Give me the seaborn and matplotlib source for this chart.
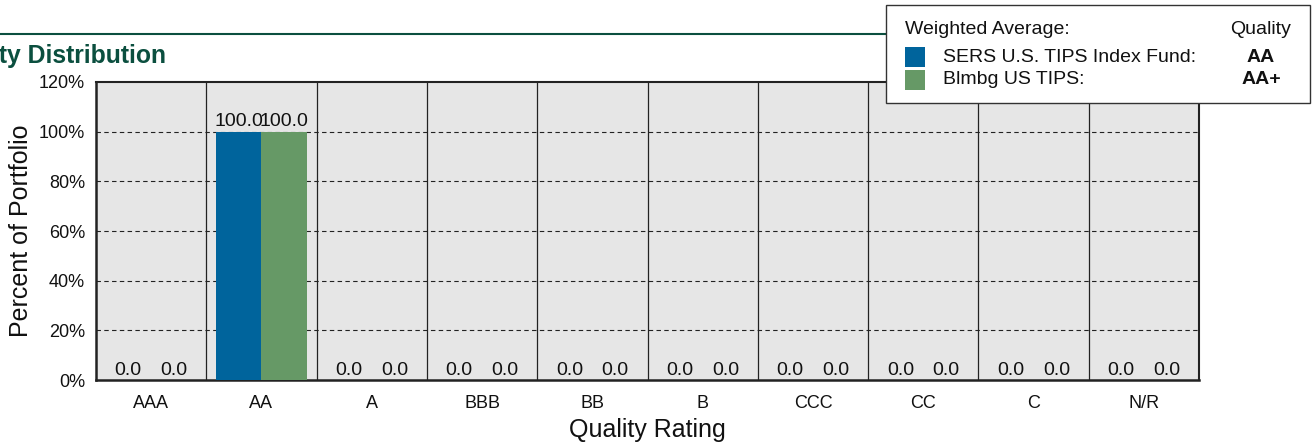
import matplotlib
matplotlib.use("Agg")
import matplotlib.pyplot as plt
import seaborn as sns
import pandas as pd
from matplotlib.patches import Rectangle
from matplotlib.lines import Line2D

categories = ["AAA", "AA", "A", "BBB", "BB", "B", "CCC", "CC", "C", "N/R"]
fund_values = [0.0, 100.0, 0.0, 0.0, 0.0, 0.0, 0.0, 0.0, 0.0, 0.0]
bench_values = [0.0, 100.0, 0.0, 0.0, 0.0, 0.0, 0.0, 0.0, 0.0, 0.0]
series_names = ["SERS U.S. TIPS Index Fund:", "Blmbg US TIPS:"]
series_quality = ["AA", "AA+"]
colors = ["#00649c", "#669966"]

df = pd.DataFrame({
    "Rating": categories * 2,
    "Value": fund_values + bench_values,
    "Series": [series_names[0]] * len(categories) + [series_names[1]] * len(categories),
})

sns.set_theme(style="white")
plt.rcParams["font.family"] = ["Liberation Sans", "DejaVu Sans"]
plt.rcParams["text.color"] = "#111111"
plt.rcParams["axes.labelcolor"] = "#111111"
plt.rcParams["xtick.color"] = "#111111"
plt.rcParams["ytick.color"] = "#111111"

W, H = 1313, 448
fig = plt.figure(figsize=(W / 100, H / 100), dpi=100)
ax = fig.add_axes([96 / W, 1 - 380 / H, (1199 - 96) / W, (380 - 82) / H])
ax.set_facecolor("#e6e6e6")

sns.barplot(data=df, x="Rating", y="Value", hue="Series", order=categories,
            hue_order=series_names, palette=colors, width=0.83, gap=0,
            ax=ax, legend=False, saturation=1, zorder=3, linewidth=0)

ax.set_ylim(0, 120)
ax.set_xlim(-0.5, len(categories) - 0.5)
ax.set_yticks(range(0, 121, 20))
ax.set_yticklabels([f"{v}%" for v in range(0, 121, 20)], fontsize=13)
ax.tick_params(axis="both", length=0, pad=8)
ax.tick_params(axis="x", labelsize=13, pad=11)
for y in range(20, 120, 20):
    ax.axhline(y, color="#222222", linestyle=(0, (4, 3)), linewidth=0.8, zorder=1)
for i in range(1, len(categories)):
    ax.axvline(i - 0.5, color="#222222", linewidth=0.9, zorder=2)

for cont in ax.containers:
    ax.bar_label(cont, fmt="%.1f", fontsize=14, padding=1, color="#111111")

for s in ax.spines.values():
    s.set_color("#222222")
ax.spines["left"].set_linewidth(1.8)
ax.spines["bottom"].set_linewidth(1.8)
ax.spines["top"].set_linewidth(1.5)
ax.spines["right"].set_linewidth(1.5)

ax.set_xlabel("Quality Rating", fontsize=18, labelpad=4)
ax.set_ylabel("Percent of Portfolio", fontsize=18, labelpad=4)

# header line and title
fig.add_artist(Line2D([0, 890 / W], [1 - 34 / H, 1 - 34 / H], color="#0b4f3f", linewidth=1.5))
fig.text(166 / W, 1 - 56 / H, "Quality Distribution", ha="right", va="center",
         fontsize=17.8, fontweight="bold", color="#0b4f3f")

# legend box
fig.add_artist(Rectangle((886 / W, 1 - 103 / H), (1310 - 886) / W, (103 - 5) / H,
                         facecolor="white", edgecolor="#333333", linewidth=1.0,
                         transform=fig.transFigure, zorder=10))
fig.text(905 / W, 1 - 29 / H, "Weighted Average:", fontsize=14, va="center", zorder=11)
fig.text(1291 / W, 1 - 29 / H, "Quality", fontsize=14, va="center", ha="right", zorder=11)
for k, (name, q, c) in enumerate(zip(series_names, series_quality, colors)):
    yc = 57 + 23 * k
    fig.add_artist(Rectangle((905 / W, 1 - (yc + 10) / H), 20 / W, 20 / H,
                             facecolor=c, edgecolor="none", transform=fig.transFigure, zorder=11))
    fig.text(943 / W, 1 - yc / H, name, fontsize=14, va="center", zorder=11)
    fig.text(1261 / W, 1 - yc / H, q, fontsize=14, va="center", ha="center",
             fontweight="bold", zorder=11)

fig.savefig("out.png", dpi=100)
